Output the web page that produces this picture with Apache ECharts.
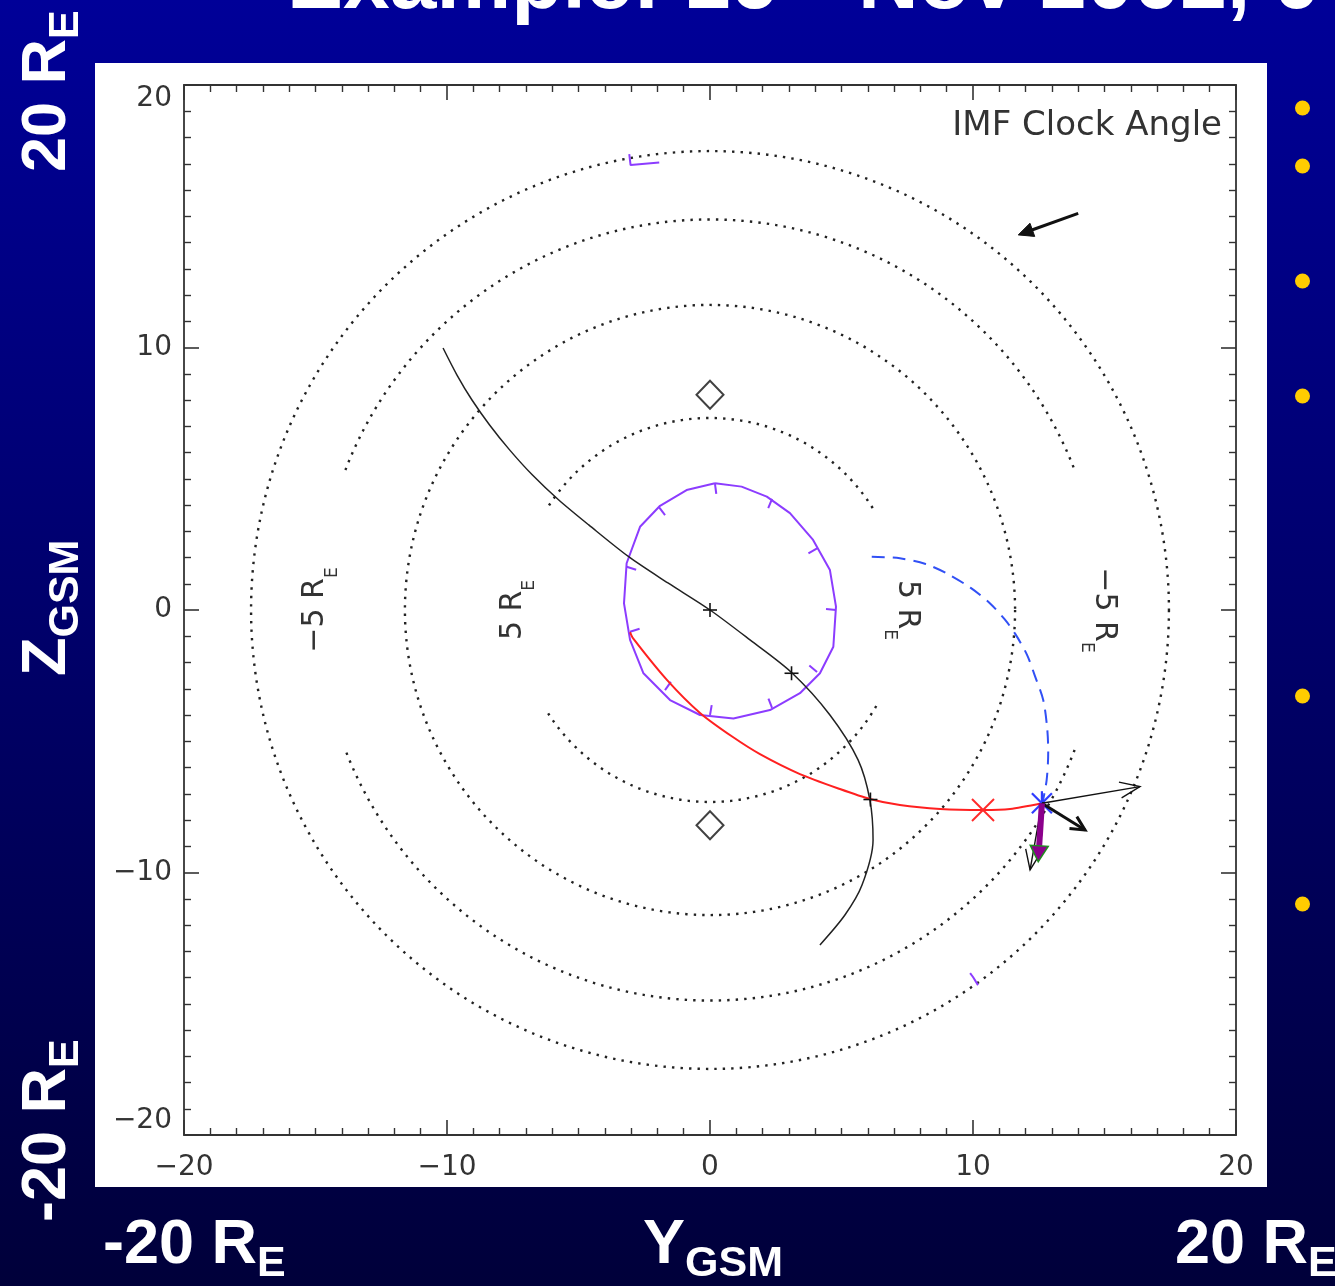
<!DOCTYPE html>
<html><head><meta charset="utf-8">
<script src="https://cdn.jsdelivr.net/npm/echarts@6/dist/echarts.min.js"></script>
<style>html,body{margin:0;padding:0;background:#000080;}#c{width:1335px;height:1286px;}</style>
</head><body><div id="c"></div>
<script>
// ---------------- data ----------------
const axisMin = -20, axisMax = 20, axisStep = 10;
// dotted rings: [radius, startDeg, endDeg]
const ringArcs = [[7.3, 31, 147], [7.3, 212, 330], [11.6, 0, 360], [14.85, 21, 159], [14.85, 201, 339], [17.45, 0, 360]];
// ring labels: [x, y]
const ringLabelPos = [[-15.0, 0.0], [-7.5, 0.0], [7.47, 0.0], [14.96, 0.0]];
const ringLabelText = ['\u22125 R', '5 R', '5 R', '\u22125 R'];
// black trajectory
const trajectory = [[-10.15, 9.98], [-9.62, 8.95], [-9.05, 8.0], [-8.38, 7.05], [-7.62, 6.1], [-6.75, 5.14], [-5.75, 4.19], [-4.61, 3.24], [-3.08, 2.02], [-1.60, 1.03], [0, 0], [1.52, -1.14], [3.12, -2.4], [4.56, -4.0], [5.63, -5.71], [6.08, -7.24], [6.2, -8.76], [5.78, -10.48], [5.13, -11.62], [4.18, -12.76]];
// red projection
const projection = [[-3.04, -0.84], [-2.93, -1.07], [-1.63, -2.67], [-0.38, -3.92], [0.87, -4.84], [1.90, -5.49], [3.42, -6.25], [4.94, -6.82], [6.08, -7.2], [7.22, -7.43], [8.75, -7.58], [10.38, -7.62], [11.41, -7.58], [12.62, -7.36]];
// blue dashed field line
const fieldLine = [[6.15, 2.03], [7.22, 1.97], [8.2, 1.75], [8.99, 1.40], [9.9, 0.85], [10.65, 0.25], [11.2, -0.35], [11.6, -0.9], [12.05, -1.7], [12.35, -2.5], [12.67, -3.43], [12.82, -4.5], [12.86, -5.4], [12.8, -6.48], [12.64, -7.36]];
// purple contour
const contour = [[0.19, 4.83], [1.2, 4.7], [2.16, 4.32], [3.04, 3.69], [3.92, 2.67], [4.56, 1.52], [4.79, 0.13], [4.69, -1.40], [4.18, -2.41], [3.42, -3.17], [2.28, -3.81], [0.89, -4.13], [-0.38, -4.0], [-1.52, -3.43], [-2.53, -2.41], [-3.04, -1.14], [-3.27, 0.25], [-3.17, 1.78], [-2.66, 3.17], [-1.90, 3.97], [-0.89, 4.57], [0.19, 4.83]];
const contourCenter = [0.76, 0.38];
const contourTicks = [[0.19, 4.8], [-1.94, 3.92], [2.36, 4.23], [4.07, 2.35], [4.79, 0.0], [4.07, -2.36], [2.36, -3.73], [0.0, -4.0], [-1.71, -3.05], [-3.04, -0.83], [-3.17, 1.65]];
// small purple marks
const markTop = [[-3.07, 17.37], [-3.02, 16.95], [-1.93, 17.05]];
const markBottom = [[9.89, -13.83], [10.0, -13.98], [10.19, -14.29]];
// markers: [x, y, kind]  kind 0 plus, 1 cross, 2 asterisk
const markers = [[0, 0, 0], [3.1, -2.41, 0], [6.1, -7.22, 0], [10.38, -7.62, 1], [12.62, -7.36, 2]];
const diamonds = [[0, 8.2], [0, -8.2]];
// vectors: [x1, y1, x2, y2, kind]
const vectors = [[12.62, -7.36, 16.35, -6.73, 0], [12.62, -7.36, 14.26, -8.38, 1], [12.62, -7.36, 12.17, -9.9, 0], [12.62, -7.36, 12.48, -9.59, 2], [14.0, 15.11, 11.72, 14.29, 3]];
const bulletRows = [108, 166, 281, 396, 696, 904];

// ---------------- helpers ----------------
const mctx = document.createElement('canvas').getContext('2d');
function textW(t, font) { mctx.font = font; return mctx.measureText(t).width; }
function fmt(v) { return v < 0 ? '\u2212' + Math.abs(v) : String(v); }

const arrowStyles = [
  {color: '#111', width: 1.4, head: 20, half: 8, filled: false},
  {color: '#111', width: 3, head: 14, half: 7, filled: false},
  {color: '#8b008b', width: 6, head: 16, half: 9, filled: true, edge: '#1e8c1e', edgeWidth: 1.5},
  {color: '#111', width: 3, head: 15, half: 7, filled: true}
];

const slideFont = 'bold 63px "Liberation Sans", Arial, sans-serif';
const slideSub = 'bold 43px "Liberation Sans", Arial, sans-serif';
function slideLabel(main, sub, x, y, rot) {
  const w = textW(main, slideFont);
  return {type: 'group', x: x, y: y, rotation: rot, z: 50, children: [
    {type: 'text', x: 0, y: 0, style: {text: main, font: slideFont, fill: '#fff', align: 'left', verticalAlign: 'middle'}},
    {type: 'text', x: w, y: 18, style: {text: sub, font: slideSub, fill: '#fff', align: 'left', verticalAlign: 'middle'}}
  ]};
}

const axisColor = '#333';
function makeAxis(pos, showLabel) {
  return {
    type: 'value', min: axisMin, max: axisMax, interval: axisStep, position: pos,
    axisLine: {show: true, onZero: false, lineStyle: {color: axisColor, width: 1.8}},
    axisTick: {show: true, inside: true, length: 15, lineStyle: {color: axisColor, width: 1.6}},
    minorTick: {show: true, splitNumber: 10, length: 7, lineStyle: {color: axisColor, width: 1.4}},
    splitLine: {show: false},
    axisLabel: {show: showLabel, color: '#333', fontSize: 28, fontFamily: 'DejaVu Sans', formatter: fmt,
      showMinLabel: true, showMaxLabel: true,
      margin: (pos === 'bottom') ? 19 : 12,
      verticalAlignMinLabel: pos === 'left' ? 'bottom' : undefined,
      verticalAlignMaxLabel: pos === 'left' ? 'top' : undefined}
  };
}

const chart = echarts.init(document.getElementById('c'), null, {renderer: 'canvas'});
const option = {
  animation: false,
  backgroundColor: new echarts.graphic.LinearGradient(0, 0, 0, 1, [{offset: 0, color: '#000098'}, {offset: 1, color: '#00003a'}]),
  grid: {left: 184, top: 85, width: 1052, height: 1050, show: false},
  xAxis: [makeAxis('bottom', true), makeAxis('top', false)],
  yAxis: [makeAxis('left', true), makeAxis('right', false)],
  graphic: [
    {type: 'rect', shape: {x: 95, y: 63, width: 1172, height: 1124}, style: {fill: '#fff'}, z: -10, silent: true},
    {type: 'text', x: 287, y: -15, z: 50, style: {text: 'Example: 16', font: 'bold 84px "Liberation Sans", Arial, sans-serif', fill: '#fff', align: 'left', verticalAlign: 'middle', shadowColor: '#3a3a3a', shadowOffsetX: 3, shadowOffsetY: 3}},
    {type: 'text', x: 776, y: -45, z: 50, style: {text: 'th', font: 'bold 52px "Liberation Sans", Arial, sans-serif', fill: '#fff', align: 'left', verticalAlign: 'middle'}},
    {type: 'text', x: 858, y: -15, z: 50, style: {text: 'Nov 2002, 0', font: 'bold 84px "Liberation Sans", Arial, sans-serif', fill: '#fff', align: 'left', verticalAlign: 'middle', shadowColor: '#3a3a3a', shadowOffsetX: 3, shadowOffsetY: 3}},
    slideLabel('-20 R', 'E', 103, 1246, 0),
    slideLabel('Y', 'GSM', 643, 1246, 0),
    slideLabel('20 R', 'E', 1175, 1246, 0),
    slideLabel('20 R', 'E', 48, 172, Math.PI / 2),
    slideLabel('Z', 'GSM', 48, 676, Math.PI / 2),
    slideLabel('-20 R', 'E', 48, 1222, Math.PI / 2),
    {type: 'text', x: 1222, y: 126, z: 50, style: {text: 'IMF Clock Angle', font: '34px "DejaVu Sans"', fill: '#333', align: 'right', verticalAlign: 'middle'}}
  ].concat(bulletRows.map(function (y) {
    return {type: 'circle', shape: {cx: 1302.5, cy: y, r: 7.5}, style: {fill: '#ffcc00'}, z: 50};
  })),
  series: [
    { // dotted rings
      type: 'custom', coordinateSystem: 'cartesian2d', silent: true, z: 2,
      data: ringArcs,
      renderItem: function (params, api) {
        const c = api.coord([0, 0]);
        const r = api.size([api.value(0), 0])[0];
        return {type: 'arc', shape: {cx: c[0], cy: c[1], r: r, startAngle: -api.value(2) * Math.PI / 180, endAngle: -api.value(1) * Math.PI / 180, clockwise: true},
          style: {stroke: '#222', fill: 'none', lineWidth: 2.4, lineDash: [2.4, 6.1]}};
      }
    },
    { // ring labels
      type: 'custom', coordinateSystem: 'cartesian2d', silent: true, z: 3,
      data: ringLabelPos,
      renderItem: function (params, api) {
        const p = api.coord([api.value(0), api.value(1)]);
        const main = ringLabelText[params.dataIndex];
        const f1 = '30px "DejaVu Sans"', f2 = '17px "DejaVu Sans"';
        const w1 = textW(main, f1), w2 = textW('E', f2);
        const start = -(w1 + w2) / 2;
        const rot = api.value(0) < 0 ? Math.PI / 2 : -Math.PI / 2;
        return {type: 'group', x: p[0], y: p[1], rotation: rot, children: [
          {type: 'text', x: start, y: 0, style: {text: main, font: f1, fill: '#333', align: 'left', verticalAlign: 'middle'}},
          {type: 'text', x: start + w1, y: 17, style: {text: 'E', font: f2, fill: '#333', align: 'left', verticalAlign: 'middle'}}
        ]};
      }
    },
    {type: 'line', data: contour, showSymbol: false, silent: true, z: 4, lineStyle: {color: '#8c3cff', width: 2}},
    { // contour ticks
      type: 'custom', coordinateSystem: 'cartesian2d', silent: true, z: 4,
      data: contourTicks,
      renderItem: function (params, api) {
        const p = api.coord([api.value(0), api.value(1)]);
        const c = api.coord(contourCenter);
        const dx = c[0] - p[0], dy = c[1] - p[1], l = Math.hypot(dx, dy);
        return {type: 'line', shape: {x1: p[0], y1: p[1], x2: p[0] + dx / l * 10, y2: p[1] + dy / l * 10}, style: {stroke: '#8c3cff', lineWidth: 2}};
      }
    },
    {type: 'line', data: markTop, showSymbol: false, silent: true, z: 4, lineStyle: {color: '#8c3cff', width: 2}},
    {type: 'line', data: markBottom, showSymbol: false, silent: true, z: 4, lineStyle: {color: '#8c3cff', width: 2}},
    {type: 'line', data: trajectory, showSymbol: false, smooth: 0.3, silent: true, z: 5, lineStyle: {color: '#222', width: 1.5}},
    {type: 'line', data: projection, showSymbol: false, smooth: 0.25, silent: true, z: 5, lineStyle: {color: '#ff2020', width: 2}},
    {type: 'line', data: fieldLine, showSymbol: false, smooth: 0.3, silent: true, z: 5, lineStyle: {color: '#3150f5', width: 2, type: [13, 8]}},
    {type: 'scatter', data: diamonds, symbol: 'diamond', symbolSize: [27, 28], silent: true, z: 6,
      itemStyle: {color: '#fff', borderColor: '#111', borderWidth: 2}},
    { // markers
      type: 'custom', coordinateSystem: 'cartesian2d', silent: true, z: 7,
      data: markers,
      renderItem: function (params, api) {
        const p = api.coord([api.value(0), api.value(1)]);
        const k = api.value(2);
        const x = p[0], y = p[1];
        let segs, color, w;
        if (k === 0) { const s = 7; segs = [[x - s, y, x + s, y], [x, y - s, x, y + s]]; color = '#111'; w = 1.6; }
        else if (k === 1) { const s = 11; segs = [[x - s, y - s, x + s, y + s], [x - s, y + s, x + s, y - s]]; color = '#ff2a2a'; w = 2; }
        else { const s = 12, d = 10; segs = [[x, y - s, x, y + s], [x - d, y - d, x + d, y + d], [x - d, y + d, x + d, y - d]]; color = '#2f3cff'; w = 2.2; }
        return {type: 'group', children: segs.map(function (g) {
          return {type: 'line', shape: {x1: g[0], y1: g[1], x2: g[2], y2: g[3]}, style: {stroke: color, lineWidth: w}};
        })};
      }
    },
    { // vectors
      type: 'custom', coordinateSystem: 'cartesian2d', silent: true, z: 8,
      data: vectors,
      renderItem: function (params, api) {
        const p1 = api.coord([api.value(0), api.value(1)]);
        const p2 = api.coord([api.value(2), api.value(3)]);
        const st = arrowStyles[api.value(4)];
        const dx = p2[0] - p1[0], dy = p2[1] - p1[1], len = Math.hypot(dx, dy);
        const ux = dx / len, uy = dy / len, nx = -uy, ny = ux;
        const bx = p2[0] - ux * st.head, by = p2[1] - uy * st.head;
        const L = [bx + nx * st.half, by + ny * st.half], R = [bx - nx * st.half, by - ny * st.half];
        const ch = [];
        if (st.filled) {
          ch.push({type: 'line', shape: {x1: p1[0], y1: p1[1], x2: bx + ux * 2, y2: by + uy * 2}, style: {stroke: st.color, lineWidth: st.width}});
          ch.push({type: 'polygon', shape: {points: [p2, L, R]}, style: {fill: st.color, stroke: st.edge || st.color, lineWidth: st.edgeWidth || 1}});
        } else {
          ch.push({type: 'line', shape: {x1: p1[0], y1: p1[1], x2: p2[0], y2: p2[1]}, style: {stroke: st.color, lineWidth: st.width}});
          ch.push({type: 'polyline', shape: {points: [L, p2, R]}, style: {stroke: st.color, lineWidth: st.width, fill: 'none'}});
        }
        return {type: 'group', children: ch};
      }
    }
  ]
};
chart.setOption(option);
</script>
</body></html>
